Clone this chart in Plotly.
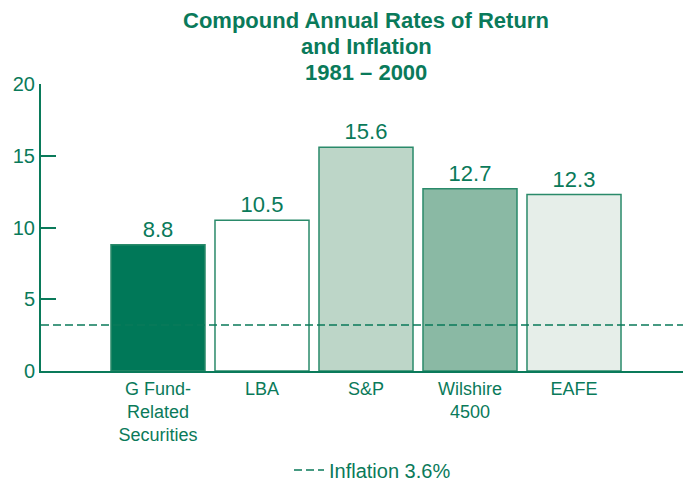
import plotly.graph_objects as go

categories = ["G Fund-<br>Related<br>Securities", "LBA", "S&P", "Wilshire<br>4500", "EAFE"]
returns = [8.8, 10.5, 15.6, 12.7, 12.3]
bar_colors = ["#007858", "#ffffff", "#bdd6c8", "#8ab9a4", "#e6eee9"]
inflation_label = "Inflation 3.6%"
inflation_level = 3.2  # where the dashed line sits in the picture
y_ticks = [0, 5, 10, 15, 20]
title_lines = ["Compound Annual Rates of Return", "and Inflation", "1981 \u2013 2000"]

GREEN = "#0a7a5a"
x_range = [-1.125, len(categories) + 0.125]

fig = go.Figure()
fig.add_trace(go.Bar(
    x=list(range(len(categories))),
    y=returns,
    marker=dict(color=bar_colors, line=dict(color="#2a8a6a", width=1.5)),
    text=[f"{v:.1f}" for v in returns],
    textposition="outside",
    textfont=dict(size=22, color=GREEN),
    cliponaxis=False,
    showlegend=False,
))
fig.add_trace(go.Scatter(
    x=x_range,
    y=[inflation_level] * 2,
    mode="lines",
    line=dict(color=GREEN, width=1.5, dash="8px,4px"),
    name=inflation_label,
))

# title lines, 26px apart, last one just above the plot
for i, line in enumerate(title_lines):
    fig.add_annotation(
        text=f"<b>{line}</b>", xref="paper", yref="paper", x=0.5, y=1.0,
        yshift=-3 + 26 * (len(title_lines) - 1 - i),
        xanchor="center", yanchor="bottom", showarrow=False,
        font=dict(size=22, color=GREEN),
    )

# the page puts the figure 8px in from the top-left corner
fig.update_layout(
    width=691, height=480,
    margin=dict(l=33, r=8, t=76, b=117, autoexpand=False),
    paper_bgcolor="white", plot_bgcolor="white",
    font=dict(family="Liberation Sans, Arial, sans-serif", color=GREEN),
    bargap=0.096,
    xaxis=dict(
        range=x_range, tickvals=list(range(len(categories))), ticktext=categories,
        showline=True, linecolor=GREEN, linewidth=2, ticks="", automargin=False,
        showgrid=False, zeroline=False, tickfont=dict(size=18, color=GREEN),
    ),
    yaxis=dict(
        range=[0, 20], tickvals=y_ticks, showline=True, linecolor=GREEN, linewidth=2,
        ticks="inside", ticklen=15, tickwidth=2, tickcolor=GREEN, automargin=False,
        showgrid=False, zeroline=False, tickfont=dict(size=20, color=GREEN),
    ),
    legend=dict(
        orientation="h", x=0.51, xanchor="center",
        yref="container", y=0.0375, yanchor="middle",
        font=dict(size=20, color=GREEN),
    ),
)

fig.write_html("out.html")
